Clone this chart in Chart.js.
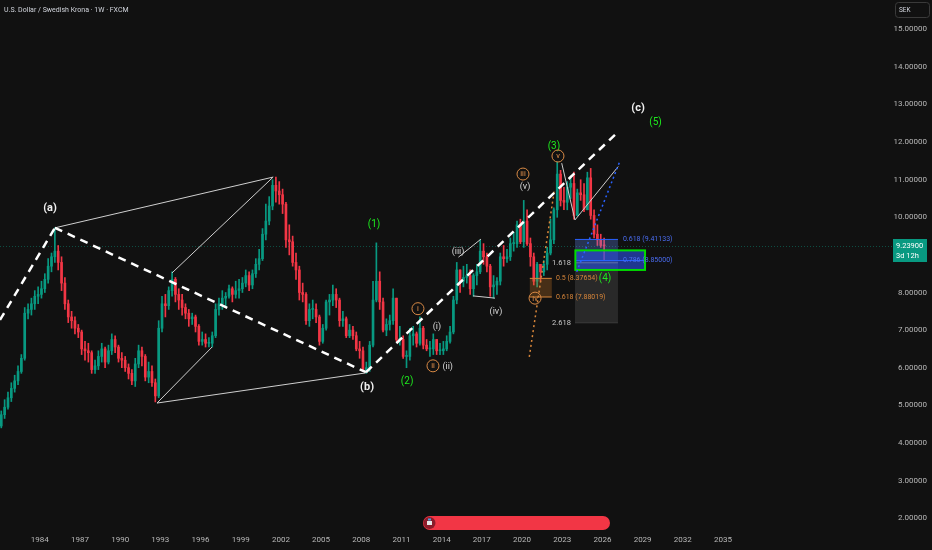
<!DOCTYPE html>
<html lang="en">
<head>
<meta charset="UTF-8">
<title>U.S. Dollar / Swedish Krona - 1W</title>
<script src="https://cdn.jsdelivr.net/npm/chart.js@4"></script>
<style>
    html, body { margin: 0; padding: 0; background: #111111; }
    #wrap { width: 932px; height: 550px; }
</style>
</head>
<body>
<div id="wrap"><canvas id="chart" width="932" height="550"></canvas></div>
<script>
// quarterly candles, first quarter is 1981 Q1
const firstYear = 1981;
const firstOpen = 4.45;

const closes = [
    4.75, 4.95, 5.20, 5.45,   5.65, 5.90, 6.25, 7.45,   7.55, 7.70, 7.90, 7.95,   8.10, 8.35, 8.70, 8.95,
    9.10, 8.80, 8.25, 7.70,   7.35, 7.25, 7.05, 6.95,   6.50, 6.45, 6.40, 5.95,   6.05, 6.30, 6.50, 6.15,
    6.45, 6.75, 6.55, 6.25,   6.20, 6.00, 5.85, 5.65,   6.10, 6.45, 6.30, 5.75,   5.90, 5.60, 5.25, 7.05,
    7.70, 7.65, 8.05, 8.35,   7.95, 7.80, 7.60, 7.45,   7.30, 7.35, 7.10, 6.70,   6.75, 6.65, 6.65, 6.85,
    7.55, 7.70, 7.85, 7.90,   8.10, 7.95, 8.05, 8.10,   8.25, 8.45, 8.20, 8.50,   8.75, 8.90, 9.55, 9.90,
    10.30, 10.85, 10.70, 10.60, 10.35, 9.40, 9.35, 8.80, 8.60, 8.00, 7.95, 7.25,  7.55, 7.55, 7.35, 6.70,
    7.05, 7.75, 7.80, 7.95,   7.80, 7.25, 7.30, 6.85,   7.00, 6.85, 6.50, 6.45,   5.95, 6.00, 6.60, 7.80,
    8.30, 7.75, 7.00, 7.15,   7.25, 7.85, 6.75, 6.75,   6.30, 6.30, 6.85, 6.90,   6.65, 7.05, 6.60, 6.50,
    6.50, 6.75, 6.45, 6.45,   6.50, 6.70, 6.95, 7.80,   8.60, 8.30, 8.40, 8.45,   8.10, 8.45, 8.55, 9.10,
    8.95, 8.70, 8.15, 8.20,   8.30, 8.95, 8.90, 8.95,   9.30, 9.30, 9.80, 9.35,   9.90, 9.30, 8.95, 8.30,
    8.75, 8.55, 8.75, 9.05,   9.40, 10.20, 11.15, 10.45, 10.40, 10.80, 10.90, 10.05, 10.65, 10.60, 10.20, 11.05,
    10.05, 9.55, 9.40, 9.25,  9.239
];
const highs = [
    4.85, 5.15, 5.35, 5.60,   5.80, 6.05, 6.35, 7.60,   7.70, 7.85, 8.05, 8.15,   8.30, 8.50, 8.90, 9.05,
    9.72, 9.25, 8.95, 8.40,   7.80, 7.50, 7.35, 7.15,   7.00, 6.70, 6.65, 6.45,   6.20, 6.45, 6.65, 6.55,
    6.60, 6.90, 6.85, 6.60,   6.40, 6.30, 6.10, 5.95,   6.25, 6.60, 6.55, 6.35,   6.15, 6.05, 5.70, 7.25,
    7.90, 7.95, 8.15, 8.55,   8.40, 8.10, 7.95, 7.70,   7.55, 7.45, 7.40, 7.15,   6.95, 6.90, 6.80, 6.95,
    7.70, 7.85, 8.05, 8.00,   8.20, 8.15, 8.30, 8.35,   8.40, 8.60, 8.55, 8.60,   8.90, 9.15, 9.70, 10.35,
    10.55, 11.00, 11.07, 10.95, 10.75, 10.40, 9.80, 9.50, 9.05, 8.70, 8.25, 8.00,  7.70, 7.80, 7.70, 7.40,
    7.15, 7.80, 7.95, 8.20,   8.10, 7.85, 7.50, 7.35,   7.15, 7.10, 6.95, 6.70,   6.55, 6.15, 6.70, 8.30,
    9.32, 8.55, 7.85, 7.30,   7.40, 8.10, 7.85, 7.10,   6.85, 6.45, 7.05, 7.10,   6.95, 7.35, 7.10, 6.75,
    6.70, 6.90, 6.75, 6.65,   6.70, 6.85, 7.10, 7.90,   8.80, 8.55, 8.70, 8.75,   8.60, 8.50, 8.75, 9.40,
    9.30, 9.05, 8.75, 8.45,   8.40, 9.05, 9.25, 9.15,   9.45, 9.60, 9.90, 9.95,   10.45, 10.20, 9.45, 9.05,
    8.80, 8.60, 8.85, 9.20,   9.95, 10.25, 11.47, 11.25, 10.80, 10.95, 11.10, 11.20, 10.75, 11.00, 10.90, 11.20,
    11.30, 10.20, 9.80, 9.55, 9.45
];
const lows = [
    4.40, 4.65, 4.90, 5.10,   5.35, 5.55, 5.85, 6.20,   7.30, 7.40, 7.55, 7.70,   7.85, 8.00, 8.25, 8.55,
    8.80, 8.60, 8.05, 7.55,   7.20, 7.05, 6.90, 6.80,   6.35, 6.20, 6.15, 5.85,   5.85, 5.95, 6.15, 6.00,
    6.10, 6.35, 6.40, 6.15,   6.00, 5.90, 5.70, 5.55,   5.50, 6.00, 6.05, 5.65,   5.60, 5.50, 5.09, 5.20,
    6.95, 7.35, 7.55, 7.90,   7.75, 7.55, 7.40, 7.30,   7.10, 7.15, 6.95, 6.60,   6.60, 6.55, 6.55, 6.55,
    6.80, 7.40, 7.55, 7.60,   7.85, 7.75, 7.85, 7.85,   8.00, 8.15, 8.05, 8.10,   8.40, 8.60, 8.85, 9.40,
    9.80, 10.20, 10.40, 10.35, 10.10, 9.20, 9.00, 8.70,  8.35, 7.80, 7.75, 7.15,   7.10, 7.30, 7.20, 6.60,
    6.65, 7.00, 7.40, 7.65,   7.60, 7.10, 7.10, 6.80,   6.80, 6.75, 6.45, 6.25,   5.90, 5.85, 5.90, 6.55,
    7.75, 7.55, 6.95, 6.85,   7.00, 7.15, 6.70, 6.60,   6.25, 6.00, 6.20, 6.60,   6.55, 6.60, 6.50, 6.45,
    6.30, 6.35, 6.35, 6.35,   6.35, 6.45, 6.65, 6.90,   7.70, 8.00, 8.15, 8.25,   7.95, 7.90, 8.20, 8.50,
    8.75, 8.55, 7.90, 7.85,   7.95, 8.20, 8.70, 8.80,   8.85, 9.10, 9.20, 9.30,   9.20, 9.25, 8.70, 8.20,
    8.15, 8.30, 8.45, 8.60,   9.00, 9.30, 10.00, 10.30, 10.20, 10.20, 10.50, 9.95, 10.10, 10.45, 10.15, 10.20,
    9.95, 9.45, 9.25, 9.20,   8.86
];

const yearTicks = [1984, 1987, 1990, 1993, 1996, 1999, 2002, 2005, 2008, 2011, 2014, 2017, 2020, 2023, 2026, 2029, 2032, 2035];
const priceTicks = [2, 3, 4, 5, 6, 7, 8, 9, 10, 11, 12, 13, 14, 15];
const lastPrice = 9.239;

const UP = '#089981';
const DOWN = '#f23645';

// build candle pieces
const wicks = [];
const bodies = [];
const candleColors = [];
let prev = firstOpen;
closes.forEach((c, i) => {
    const t = firstYear + i * 0.25 + 0.125;
    const hi = Math.max(highs[i], prev, c);
    const lo = Math.min(lows[i], prev, c);
    wicks.push({ x: t, y: [lo, hi] });
    bodies.push({ x: t, y: [prev, c] });
    candleColors.push(c >= prev ? UP : DOWN);
    prev = c;
});

// drawings, in (year, price)
const dashedLegs = [
    [[1981.03, 7.27], [1985.13, 9.72]],
    [[1985.13, 9.72], [2008.35, 5.88]],
    [[2008.35, 5.88], [2027.1, 12.25]]
];
const thinLegs = [
    [[1985.13, 9.72], [2001.42, 11.07]],
    [[2001.42, 11.07], [1993.87, 8.52]],
    [[1992.75, 5.06], [1996.86, 6.55]],
    [[1992.75, 5.06], [2008.3, 5.86]],
    [[2015.25, 8.94], [2016.93, 9.42]],
    [[2016.34, 7.91], [2017.98, 7.85]],
    [[2022.96, 11.44], [2023.95, 9.93]],
    [[2023.95, 9.93], [2027.18, 11.35]]
];
const blueDotted = [[2024.08, 8.55], [2027.3, 11.49]];
const orangeDotted = [[2020.54, 6.29], [2022.4, 10.7]];

const waveLabels = [
    ['(a)', 1984.76, 10.25, 'major'],
    ['(b)', 2008.43, 5.49, 'major'],
    ['(c)', 2028.66, 12.91, 'major'],
    ['(1)', 2008.95, 9.82, 'green'],
    ['(2)', 2011.42, 5.62, 'green'],
    ['(3)', 2022.38, 11.87, 'green'],
    ['(4)', 2026.19, 8.36, 'green'],
    ['(5)', 2029.96, 12.51, 'green'],
    ['(i)', 2013.65, 7.09, 'minor'],
    ['(ii)', 2014.45, 6.02, 'minor'],
    ['(iii)', 2015.22, 9.08, 'minor'],
    ['(iv)', 2018.05, 7.48, 'minor'],
    ['(v)', 2020.22, 10.81, 'minor'],
    ['i', 2012.23, 7.57, 'circle'],
    ['ii', 2013.35, 6.05, 'circle'],
    ['iii', 2020.07, 11.15, 'circle'],
    ['iv', 2020.97, 7.85, 'circle'],
    ['v', 2022.68, 11.63, 'circle']
];

const FONT = 'Roboto, "Liberation Sans", sans-serif';

const overlay = {
    id: 'overlay',
    beforeDraw(chart) {
        const c = chart.ctx;
        c.save();
        c.fillStyle = '#111111';
        c.fillRect(0, 0, chart.width, chart.height);
        c.restore();
    },
    beforeDatasetsDraw(chart) {
        const c = chart.ctx, a = chart.chartArea;
        const y = chart.scales.y.getPixelForValue(lastPrice);
        c.save();
        c.strokeStyle = 'rgba(8,153,129,0.45)';
        c.lineWidth = 1;
        c.setLineDash([1, 2]);
        c.beginPath();
        c.moveTo(a.left, Math.round(y) + 0.5);
        c.lineTo(a.right, Math.round(y) + 0.5);
        c.stroke();
        c.restore();
    },
    afterDatasetsDraw(chart) {
        const c = chart.ctx, a = chart.chartArea;
        const sx = chart.scales.x, sy = chart.scales.y;
        const X = t => sx.getPixelForValue(t);
        const Y = v => sy.getPixelForValue(v);
        const seg = (p, q) => { c.beginPath(); c.moveTo(X(p[0]), Y(p[1])); c.lineTo(X(q[0]), Y(q[1])); c.stroke(); };
        const box = (t0, t1, v0, v1) => [X(t0), Y(v0), X(t1) - X(t0), Y(v1) - Y(v0)];

        c.save();
        c.beginPath();
        c.rect(a.left, a.top, a.right - a.left, a.bottom - a.top);
        c.clip();

        // fib boxes
        c.fillStyle = 'rgba(255,255,255,0.1)';
        c.fillRect(...box(2023.95, 2027.16, 9.41133, 7.19));
        c.fillStyle = 'rgba(41,98,255,0.2)';
        c.fillRect(...box(2023.95, 2027.16, 9.41133, 8.85));
        c.fillStyle = 'rgba(41,82,230,0.6)';
        c.fillRect(...box(2023.98, 2029.18, 9.12, 8.60));
        c.fillStyle = 'rgba(200,120,40,0.3)';
        c.fillRect(...box(2020.58, 2022.22, 8.37654, 7.88019));

        c.lineWidth = 1;
        c.strokeStyle = '#2962ff';
        seg([2023.95, 9.41133], [2027.16, 9.41133]);
        seg([2023.95, 8.85], [2029.18, 8.85]);
        c.strokeStyle = 'rgba(200,200,200,0.35)';
        seg([2023.95, 8.79], [2027.16, 8.79]);
        c.strokeStyle = 'rgba(200,200,200,0.15)';
        seg([2023.95, 7.19], [2027.16, 7.19]);
        c.strokeStyle = '#d8863a';
        seg([2020.58, 8.37654], [2022.22, 8.37654]);
        seg([2020.58, 7.88019], [2022.22, 7.88019]);

        c.strokeStyle = '#00dd00';
        c.lineWidth = 2;
        c.strokeRect(...box(2023.98, 2029.18, 9.12, 8.60));

        // thin trend lines
        c.strokeStyle = '#cfcfcf';
        c.lineWidth = 1;
        thinLegs.forEach(l => seg(l[0], l[1]));

        // dotted projections
        c.setLineDash([2, 3]);
        c.lineWidth = 1.5;
        c.strokeStyle = '#2962ff';
        seg(blueDotted[0], blueDotted[1]);
        c.strokeStyle = '#d8863a';
        seg(orangeDotted[0], orangeDotted[1]);

        // big dashed legs
        c.setLineDash([8, 6]);
        c.lineWidth = 2.5;
        c.strokeStyle = '#ffffff';
        dashedLegs.forEach(l => seg(l[0], l[1]));
        c.setLineDash([]);

        // fib labels
        c.textBaseline = 'middle';
        c.font = '7px ' + FONT;
        c.textAlign = 'left';
        c.fillStyle = '#4a6cf0';
        c.fillText('0.618 (9.41133)', X(2027.53), Y(9.41133));
        c.fillText('0.786 (8.85000)', X(2027.53), Y(8.85));
        c.fillStyle = '#d8863a';
        c.fillText('0.5 (8.37654)', X(2022.53), Y(8.37654));
        c.fillText('0.618 (7.88019)', X(2022.53), Y(7.88019));
        c.textAlign = 'right';
        c.fillStyle = '#c8c8c8';
        c.font = '7.5px ' + FONT;
        c.fillText('1.618', X(2023.65), Y(8.79));
        c.fillText('2.618', X(2023.65), Y(7.19));

        // wave labels
        c.textAlign = 'center';
        waveLabels.forEach(([txt, t, v, kind]) => {
            const x = X(t), y = Y(v);
            if (kind === 'major') {
                c.font = 'bold 11px ' + FONT;
                c.fillStyle = '#f0f0f0';
                c.fillText(txt, x, y);
            } else if (kind === 'green') {
                c.font = '10px ' + FONT;
                c.fillStyle = '#1ee81e';
                c.fillText(txt, x, y);
            } else if (kind === 'minor') {
                c.font = '9px ' + FONT;
                c.fillStyle = '#d8d8d8';
                c.fillText(txt, x, y);
            } else {
                c.strokeStyle = '#d98a45';
                c.lineWidth = 1;
                c.beginPath();
                c.arc(x, y, 6, 0, Math.PI * 2);
                c.stroke();
                c.font = '7.5px ' + FONT;
                c.fillStyle = '#e8944d';
                c.fillText(txt, x, y + 0.5);
            }
        });
        c.restore();
    },
    afterDraw(chart) {
        const c = chart.ctx;
        const y = chart.scales.y.getPixelForValue(lastPrice);
        c.save();
        // title
        c.font = '7px ' + FONT;
        c.fillStyle = '#d1d4dc';
        c.textBaseline = 'middle';
        c.textAlign = 'left';
        c.fillText('U.S. Dollar / Swedish Krona · 1W · FXCM', 4, 10);

        // currency box
        c.strokeStyle = '#3a3a3a';
        c.lineWidth = 1;
        c.beginPath();
        c.roundRect(895.5, 2.5, 34, 15, 3);
        c.stroke();
        c.fillStyle = '#d1d4dc';
        c.font = '6.5px ' + FONT;
        c.fillText('SEK', 899, 10.5);

        // last price tag
        c.fillStyle = UP;
        c.fillRect(893, Math.round(y) - 7, 34, 23);
        c.fillStyle = '#ffffff';
        c.font = '7.5px ' + FONT;
        c.fillText(lastPrice.toFixed(5), 896, Math.round(y));
        c.fillText('3d 12h', 896, Math.round(y) + 10);

        // replay bar
        c.fillStyle = DOWN;
        c.beginPath();
        c.roundRect(423, 516, 187, 14, 7);
        c.fill();
        c.fillStyle = '#8c1c2a';
        c.beginPath();
        c.arc(429.5, 523, 6, 0, Math.PI * 2);
        c.fill();
        c.fillStyle = '#e8e8e8';
        c.fillRect(427, 521, 5, 4);
        c.fillStyle = '#4aa0e0';
        c.fillRect(428, 518.5, 3, 2);
        c.restore();
    }
};

new Chart(document.getElementById('chart'), {
    type: 'bar',
    data: {
        datasets: [
            {
                data: wicks,
                backgroundColor: candleColors,
                barThickness: 1,
                grouped: false,
                order: 2
            },
            {
                data: bodies,
                backgroundColor: candleColors,
                barThickness: 2,
                minBarLength: 1,
                grouped: false,
                order: 1
            }
        ]
    },
    options: {
        responsive: false,
        animation: false,
        layout: { padding: { left: 0, top: 0, right: 5, bottom: 0 } },
        plugins: { legend: { display: false }, tooltip: { enabled: false } },
        scales: {
            x: {
                type: 'linear',
                offset: false,
                min: 1981.03,
                max: 2047.69,
                grid: { display: false, drawTicks: false },
                border: { display: false },
                ticks: {
                    color: '#b8b8b8',
                    font: { family: FONT, size: 8 },
                    padding: 5,
                    maxRotation: 0,
                    autoSkip: false,
                    callback: v => String(v)
                },
                afterBuildTicks: s => { s.ticks = yearTicks.map(v => ({ value: v })); },
                afterFit: s => { s.height = 20; s.paddingLeft = 0; s.paddingRight = 0; }
            },
            y: {
                position: 'right',
                min: 1.684,
                max: 15.779,
                grid: { display: false, drawTicks: false },
                border: { display: false },
                ticks: {
                    color: '#b8b8b8',
                    font: { family: FONT, size: 8 },
                    crossAlign: 'far',
                    callback: v => v.toFixed(5)
                },
                afterBuildTicks: s => { s.ticks = priceTicks.map(v => ({ value: v })); },
                afterFit: s => { s.width = 34; s.paddingTop = 0; s.paddingBottom = 0; }
            }
        }
    },
    plugins: [overlay]
});
</script>
</body>
</html>
